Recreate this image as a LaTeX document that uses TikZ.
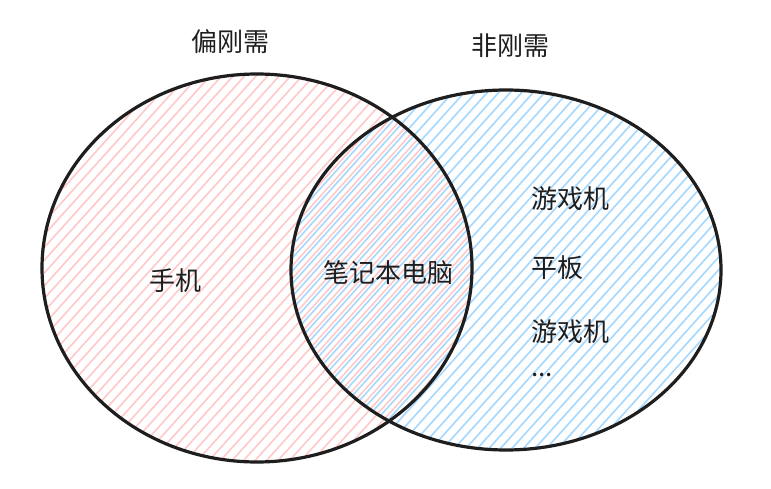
\documentclass[tikz,border=0pt]{standalone}
\usepackage{fontspec}
\newfontfamily\cjk{Noto Sans CJK SC}
\definecolor{hpink}{HTML}{FFC9C9}
\definecolor{hblue}{HTML}{A5D8FF}
\definecolor{ink}{HTML}{1E1E1E}
\begin{document}
\begin{tikzpicture}[x=1pt,y=-1pt,
  outline/.style={draw=ink,line width=3.2pt},
  pinkhatch/.style={draw=hpink,line width=1.6pt},
  bluehatch/.style={draw=hblue,line width=1.6pt},
  lbl/.style={font=\cjk\fontsize{26}{30}\selectfont,text=ink,inner sep=0pt}]
\useasboundingbox (0,0) rectangle (771,489);
\fill[white] (0,0) rectangle (771,489);
% pink hatch (left set)
\begin{scope}
  \clip (257,268) ellipse [x radius=215, y radius=194];
  \foreach \k in {-500,-488.5,...,800} \draw[pinkhatch] (\k,520) -- ++(486,-540);
\end{scope}
% blue hatch (right set)
\begin{scope}
  \clip (506,270) ellipse [x radius=215, y radius=180];
  \foreach \k in {-300,-288.5,...,1000} \draw[bluehatch] (\k,520) -- ++(486,-540);
\end{scope}
% outlines
\draw[outline] (506,270) ellipse [x radius=215, y radius=180];
\draw[outline] (257,268) ellipse [x radius=215, y radius=194];
% labels
\node[lbl] (hL) at (230,42) {偏刚需};
\node[lbl] (hR) at (510,46) {非刚需};
\node[lbl] (phone) at (175,281) {手机};
\node[lbl] (laptop) at (388,273) {笔记本电脑};
\node[lbl,anchor=west] (game1) at (531,199) {游戏机};
\node[lbl,anchor=west] (tablet) at (531,268) {平板};
\node[lbl,anchor=west] (game2) at (531,332) {游戏机};
\node[lbl,anchor=base west] (more) at (531,376) {...};
\end{tikzpicture}
\end{document}
